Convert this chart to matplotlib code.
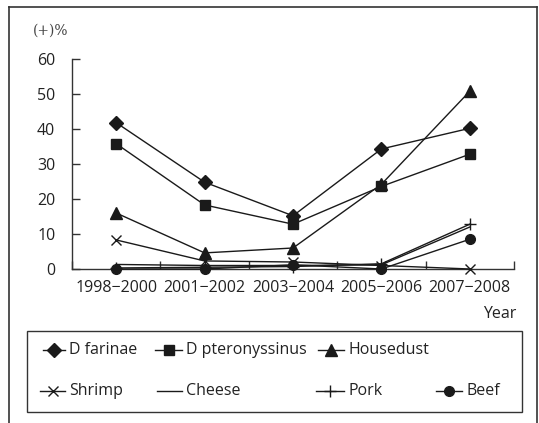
import matplotlib
matplotlib.use("Agg")
import matplotlib.pyplot as plt
from matplotlib.lines import Line2D
from matplotlib.patches import Rectangle

categories = ['1998−2000', '2001−2002', '2003−2004', '2005−2006', '2007−2008']
y_ticks = [0, 10, 20, 30, 40, 50, 60]

d_farinae = [41.8, 24.8, 15.2, 34.3, 40.2]
d_pteronyssinus = [35.8, 18.3, 12.8, 23.6, 32.8]
housedust = [16.0, 4.6, 6.0, 24.2, 50.8]
shrimp = [8.3, 2.3, 2.0, 1.0, 0.0]
cheese = [1.3, 1.0, 1.0, 1.2, 12.0]
pork = [0.3, 0.5, 0.7, 1.5, 12.8]
beef = [0.0, 0.0, 1.2, 0.0, 8.5]

series = [
    ('D farinae', d_farinae, 'D', 7),
    ('D pteronyssinus', d_pteronyssinus, 's', 7),
    ('Housedust', housedust, '^', 8),
    ('Shrimp', shrimp, 'x', 7),
    ('Cheese', cheese, 'None', 7),
    ('Pork', pork, '+', 8),
    ('Beef', beef, 'o', 7),
]

plt.rcParams['font.family'] = ['Open Sans', 'DejaVu Sans']
W, H = 539, 423
fig = plt.figure(figsize=(W / 100, H / 100), dpi=100)
FS = 11.5
TC = '#222222'

def fx(px):
    return px / W

def fy(py):
    return 1 - py / H

ax = fig.add_axes([fx(72), fy(269), fx(514) - fx(72), fy(59) - fy(269)])
xs = list(range(len(categories)))
lc = '#1a1a1a'
for name, vals, mk, ms in series:
    ax.plot(xs, vals, color=lc, lw=1.0, marker=mk, markersize=ms,
            markerfacecolor=lc, markeredgecolor=lc, markeredgewidth=1.0,
            clip_on=False, zorder=3)

ax.set_xlim(-0.5, len(categories) - 0.5)
ax.set_ylim(0, 60)
ax.set_yticks(y_ticks)
ax.set_xticks(xs)
ax.set_xticklabels(categories, fontsize=FS, color=TC)
ax.set_xticks([i - 0.5 for i in range(len(categories) + 1)], minor=True)
ax.tick_params(axis='x', which='major', length=0, pad=8)
ax.tick_params(axis='x', which='minor', length=6, direction='in', width=1, color='#333333')
ax.tick_params(axis='y', which='major', length=6, direction='in', pad=12,
               labelsize=FS, labelcolor=TC, width=1, color='#333333')
for s in ['top', 'right']:
    ax.spines[s].set_visible(False)
for s in ['left', 'bottom']:
    ax.spines[s].set_color('#333333')
    ax.spines[s].set_linewidth(1.0)

fig.text(fx(33), fy(31), '(+)%', fontsize=10, color='#444444', va='center', ha='left',
         family=['DejaVu Serif'])
fig.text(fx(516), fy(314), 'Year', fontsize=FS, color=TC, va='center', ha='right')

# outer frame
fig.add_artist(Line2D([fx(9), fx(9)], [fy(7), 0], transform=fig.transFigure, color='#333333', lw=1.2))
fig.add_artist(Line2D([fx(9), fx(537)], [fy(7), fy(7)], transform=fig.transFigure, color='#333333', lw=1.2))
fig.add_artist(Line2D([fx(537), fx(537)], [fy(7), 0], transform=fig.transFigure, color='#333333', lw=1.2))

# legend box
fig.add_artist(Rectangle((fx(27), fy(412)), fx(522) - fx(27), fy(331) - fy(412),
                         transform=fig.transFigure, fill=False, edgecolor='#333333', lw=1.0))
leg_pos = [
    (43, 65, 350), (155, 182, 350), (318, 344, 350),
    (40, 65, 391), (157, 182, 391), (316, 344, 391), (436, 462, 391),
]
for (name, vals, mk, ms), (x0, x1, yy) in zip(series, leg_pos):
    fig.add_artist(Line2D([fx(x0), fx(x1)], [fy(yy), fy(yy)], transform=fig.transFigure,
                          color=lc, lw=1.0))
    fig.add_artist(Line2D([fx((x0 + x1) / 2)], [fy(yy)], transform=fig.transFigure,
                          color=lc, marker=mk, markersize=ms, markerfacecolor=lc,
                          markeredgecolor=lc, lw=0))
    fig.text(fx(x1 + 4), fy(yy), name, fontsize=FS, color=TC, va='center', ha='left')

fig.savefig('out.png', dpi=100)
